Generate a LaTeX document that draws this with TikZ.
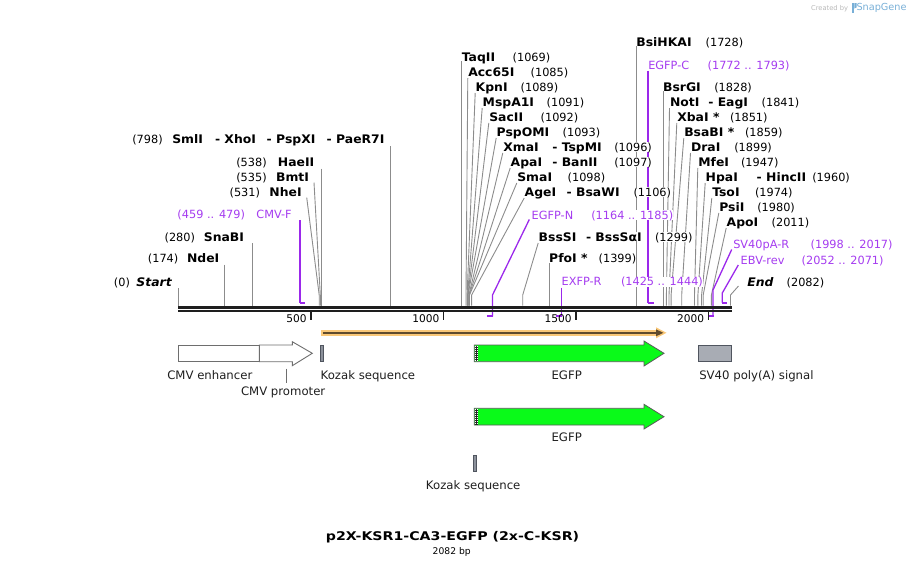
\documentclass[tikz,border=0pt]{standalone}
\usepackage{fontspec}
\setmainfont{DejaVu Sans}
\newfontfamily\enzfont{DejaVu Sans}[FakeStretch=1.05]
\newfontfamily\titlefont{DejaVu Sans}[FakeStretch=1.18]
\usetikzlibrary{calc}
\pgfdeclarelayer{background}
\pgfsetlayers{background,main}
\definecolor{cutline}{RGB}{140,140,140}
\definecolor{prim}{RGB}{155,40,235}
\definecolor{primtxt}{RGB}{165,60,240}
\definecolor{dna}{RGB}{30,30,30}
\definecolor{egfp}{RGB}{10,250,25}
\definecolor{egfpD}{RGB}{90,90,90}
\definecolor{featgray}{RGB}{140,145,155}
\definecolor{kozD}{RGB}{80,85,95}
\definecolor{polyA}{RGB}{168,172,180}
\definecolor{orfO}{RGB}{250,200,120}
\definecolor{orfD}{RGB}{95,75,45}
\definecolor{featline}{RGB}{110,110,110}
\definecolor{feattxt}{RGB}{30,30,30}
\definecolor{sgblue}{RGB}{120,175,215}
\definecolor{sggray}{RGB}{185,185,185}
% right-side site: id, name, name x, baseline, number, number x, bp x
\newcommand\rsite[7]{%
  \node[enzR] (#1) at (#3,#4) {#2};
  \node[numR] (#1n) at (#6,#4) {#5};
  \begin{pgfonlayer}{background}
  \draw[cut] ([shift={(-0.5,2)}]#1.base west) -- (#7,295) -- (#7,305.5);
  \end{pgfonlayer}
}
% right-side site, vertical line
\newcommand\rsitev[6]{%
  \node[enzR] (#1) at (#3,#4) {#2};
  \node[numR] (#1n) at (#6,#4) {#5};
  \begin{pgfonlayer}{background}
  \draw[cut] (#1.base west -| #3,#4+2) -- (#3,305.5);
  \end{pgfonlayer}
}
% left-side site: id, name, name end, baseline, number, number end, bp x
\newcommand\lsite[7]{%
  \node[enzL] (#1) at (#3,#4) {#2};
  \node[numL] (#1n) at (#6,#4) {#5};
  \begin{pgfonlayer}{background}
  \draw[cut] ([shift={(5,1.5)}]#1.base east) -- (#7,295) -- (#7,305.5);
  \end{pgfonlayer}
}
\newcommand\lsitev[7]{%
  \node[enzL] (#1) at (#3,#4) {#2};
  \node[numL] (#1n) at (#6,#4) {#5};
  \begin{pgfonlayer}{background}
  \draw[cut] (#7,#4+2) -- (#7,305.5);
  \end{pgfonlayer}
}
\begin{document}
\begin{tikzpicture}[x=1pt,y=-1pt,
  lbl/.style={inner sep=0pt, outer sep=0pt},
  enzR/.style={lbl, fill=white, anchor=base west, font=\fontsize{11.8}{13}\enzfont\bfseries},
  numR/.style={lbl, fill=white, anchor=base west, font=\fontsize{11.3}{13}\selectfont},
  enzL/.style={lbl, fill=white, anchor=base east, font=\fontsize{11.8}{13}\enzfont\bfseries},
  numL/.style={lbl, fill=white, anchor=base east, font=\fontsize{11.3}{13}\selectfont},
  primR/.style={lbl, fill=white, anchor=base west, text=primtxt, font=\fontsize{11.3}{13}\selectfont},
  primL/.style={lbl, fill=white, anchor=base east, text=primtxt, font=\fontsize{11.3}{13}\selectfont},
  cut/.style={draw=cutline, line width=0.9pt},
  primline/.style={draw=prim, line width=1.3pt, line join=miter},
  primfoot/.style={draw=prim, line width=2pt},
  ruler/.style={lbl, anchor=base east, font=\fontsize{10.6}{12}\selectfont, text=black},
  feat/.style={lbl, font=\fontsize{11.7}{13}\selectfont, text=feattxt},
  tick/.style={draw=dna, line width=1.8pt}
]
\useasboundingbox (0,0) rectangle (910,566);

% ---- watermark
\node[lbl, anchor=base east, text=sggray, font=\fontsize{6.7}{8}\selectfont] (createdby) at (848,10) {Created by};
\fill[sgblue] (852,3) rectangle (854.3,12.5);
\fill[sgblue] (854.3,3) -- (856.5,3) -- (856.5,7.5) -- (854.3,8.5) -- cycle;
\node[lbl, anchor=base west, text=sgblue, font=\fontsize{9.7}{11}\selectfont] (snapgene) at (856.5,10.5) {SnapGene};

% ---- left-side sites
\lsitev{start}{\itshape Start}{171.7}{286}{(0)}{130}{178.5}
\lsitev{nde}{NdeI}{219.3}{262.5}{(174)}{178.3}{224.6}
\lsitev{sna}{SnaBI}{244}{241}{(280)}{195}{252.7}
\lsite{nhe}{NheI}{301.7}{196}{(531)}{260}{319.2}
\lsite{bmt}{BmtI}{309}{181}{(535)}{266.7}{320.3}
\lsitev{hae}{HaeII}{314.3}{166.5}{(538)}{266.7}{321.1}
% SmlI group
\node[numL] (smln) at (162.7,143) {(798)};
\node[enzR] (sml) at (172.3,143) {SmlI};
\node[enzR] (xho) at (215,143) {- XhoI};
\node[enzR] (pspx) at (266.7,143) {- PspXI};
\node[enzR] (paer) at (326.7,143) {- PaeR7I};
\begin{pgfonlayer}{background}
\draw[cut] (390,146) -- (390,305.5);
\end{pgfonlayer}

% CMV-F primer
\node[primL] (cmvf) at (291.7,218.5) {CMV-F};
\node[primL] (cmvfn) at (245,218.5) {(459 .. 479)};
\begin{pgfonlayer}{background}
\draw[primline] (300.1,220) -- (300.1,303);
\draw[primfoot] (299.5,303) -- (305.4,303);
\end{pgfonlayer}

% ---- first right cluster
\rsitev{taq}{TaqII}{461.8}{61}{(1069)}{512.7}
\rsite{acc}{Acc65I}{468.3}{76}{(1085)}{530.7}{466.0}
\rsite{kpn}{KpnI}{475.7}{91}{(1089)}{520.7}{467.1}
\rsite{msp}{MspA1I}{482.7}{106}{(1091)}{546.7}{467.6}
\rsite{sac}{SacII}{489.3}{121}{(1092)}{540.7}{467.9}
\rsite{pspo}{PspOMI}{496.7}{136}{(1093)}{562.7}{468.1}
\rsite{xma}{XmaI}{503.3}{151}{(1096)}{614.3}{468.9}
\node[enzR] (tsp) at (552.3,151) {- TspMI};
\rsite{apa}{ApaI}{510.7}{166}{(1097)}{614.3}{469.2}
\node[enzR] (ban) at (552.3,166) {- BanII};
\rsite{sma}{SmaI}{517.3}{181}{(1098)}{567.7}{469.5}
\rsite{age}{AgeI}{524.7}{196}{(1106)}{633.5}{471.6}
\node[enzR] (bsaw) at (566.7,196) {- BsaWI};
\rsite{bss}{BssSI}{538.7}{241}{(1299)}{655}{522.7}
\node[enzR] (bssa) at (586,241) {- BssSαI};
\rsitev{pfo}{PfoI *}{549.2}{262.5}{(1399)}{598.7}

% EGFP-N primer
\node[primR] (egfpn) at (531.7,219) {EGFP-N};
\node[primR] (egfpnn) at (591.3,219) {(1164 .. 1185)};
\begin{pgfonlayer}{background}
\draw[primline] (529.3,219.5) -- (492.5,295) -- (492.5,316);
\draw[primfoot] (493.1,316) -- (487,316);
\end{pgfonlayer}
% EXFP-R primer
\node[primR] (exfp) at (561.7,285.5) {EXFP-R};
\node[primR] (exfpn) at (621,285.5) {(1425 .. 1444)};
\begin{pgfonlayer}{background}
\draw[primline] (561.2,287.5) -- (561.2,316);
\draw[primfoot] (561.8,316) -- (556.1,316);
\end{pgfonlayer}

% ---- second right cluster
\rsitev{bsihk}{BsiHKAI}{636.4}{46}{(1728)}{705.7}
\node[primR] (egfpc) at (648.3,69) {EGFP-C};
\node[primR] (egfpcn) at (707.7,69) {(1772 .. 1793)};
\begin{pgfonlayer}{background}
\draw[primline] (648.1,70.5) -- (648.1,302.5);
\draw[primfoot] (647.5,302.5) -- (653.6,302.5);
\end{pgfonlayer}
\rsitev{bsrg}{BsrGI}{663.1}{91}{(1828)}{714.3}
\rsite{not}{NotI}{670}{106}{(1841)}{761.7}{666.4}
\node[enzR] (eag) at (708.3,106) {- EagI};
\rsite{xba}{XbaI *}{677.3}{121}{(1851)}{730}{669.0}
\rsite{bsab}{BsaBI *}{684.3}{136}{(1859)}{745}{671.1}
\rsite{dra}{DraI}{691}{151}{(1899)}{734.3}{681.7}
\rsite{mfe}{MfeI}{698.3}{166}{(1947)}{741}{694.5}
\rsite{hpa}{HpaI}{705.7}{181}{(1960)}{812.3}{697.9}
\node[enzR] (hinc) at (756.7,181) {- HincII};
\rsite{tso}{TsoI}{712.3}{196}{(1974)}{755}{701.6}
\rsite{psi}{PsiI}{719.3}{211}{(1980)}{757.3}{703.2}
\rsite{apo}{ApoI}{726.7}{226}{(2011)}{771.7}{711.4}
% SV40pA-R primer
\node[primR] (sv40r) at (733.3,248) {SV40pA-R};
\node[primR] (sv40rn) at (810.7,248) {(1998 .. 2017)};
\begin{pgfonlayer}{background}
\draw[primline] (731.7,249.5) -- (713,290) -- (713,316);
\draw[primfoot] (713.6,316) -- (708,316);
\end{pgfonlayer}
% EBV-rev primer
\node[primR] (ebv) at (740.7,264) {EBV-rev};
\node[primR] (ebvn) at (801.7,264) {(2052 .. 2071)};
\begin{pgfonlayer}{background}
\draw[primline] (738.3,265) -- (722.3,293) -- (722.3,302.5);
\draw[primfoot] (721.7,302.5) -- (727.3,302.5);
\end{pgfonlayer}
% End
\node[enzR] (endl) at (747.3,286) {\itshape End};
\node[numR] (endn) at (786.7,286) {(2082)};
\begin{pgfonlayer}{background}
\draw[cut] (738.5,286) -- (730.5,295) -- (730.5,305.5);
\end{pgfonlayer}

% ---- DNA backbone and ruler
\draw[dna, line width=3pt] (178,307.2) -- (732,307.2);
\draw[dna, line width=2.3pt] (178,311.2) -- (732,311.2);
\draw[tick] (311,312) -- (311,319.5);
\draw[tick] (443.4,312) -- (443.4,319.5);
\draw[tick] (576,312) -- (576,319.5);
\draw[tick] (708.4,312) -- (708.4,319.5);
\node[ruler] (r500) at (306.7,322) {500};
\node[ruler] (r1000) at (439.3,322) {1000};
\node[ruler] (r1500) at (571.7,322) {1500};
\node[ruler] (r2000) at (704,322) {2000};

% ---- ORF
\draw[orfO, line width=6.5pt] (321,332.8) -- (659,332.8);
\fill[orfO] (656,327.3) -- (666.5,332.8) -- (656,338.3) -- cycle;
\draw[orfD, line width=2.6pt] (323,332.8) -- (658,332.8);
\fill[orfD] (656,329.3) -- (663.3,332.8) -- (656,336.3) -- cycle;

% ---- features row 1
\draw[featline, fill=white, line width=0.9pt] (178.3,345) rectangle (259.3,361.7);
\draw[featline, fill=white, line width=0.9pt] (259.3,345) -- (292.3,345) -- (292.3,341.7) -- (312.3,353.3) -- (292.3,365.7) -- (292.3,361.7) -- (259.3,361.7) -- cycle;
\draw[kozD, fill=featgray, line width=0.8pt] (320.3,345) rectangle (323.7,361.7);
\draw[egfpD, fill=egfp, line width=0.8pt] (474.3,345) -- (644,345) -- (644,341) -- (664,353.3) -- (644,366) -- (644,361.7) -- (474.3,361.7) -- cycle;
\fill[black!85] (474.8,345.5) rectangle (477.7,361.2);
\draw[white, line width=0.7pt, dash pattern=on 1pt off 1pt] (475.4,345.5) -- (475.4,361.2);
\draw[white, line width=0.7pt, dash pattern=on 1pt off 1pt] (477.1,346) -- (477.1,361.2);
\draw[kozD, fill=polyA, line width=0.8pt] (698.3,345) rectangle (731.7,361.7);
\draw[featline, line width=0.9pt] (286.7,368.5) -- (286.7,383);

\node[feat, anchor=base west] (cmvenh) at (167.3,379) {CMV enhancer};
\node[feat, anchor=base west] (cmvpro) at (241,395) {CMV promoter};
\node[feat, anchor=base west] (koz1) at (320.7,379) {Kozak sequence};
\node[feat, anchor=base] (egfp1) at (566.7,379) {EGFP};
\node[feat, anchor=base west] (sv40) at (699.3,379) {SV40 poly(A) signal};

% ---- features row 2
\draw[egfpD, fill=egfp, line width=0.8pt] (474.3,408.3) -- (644,408.3) -- (644,404.3) -- (664,416.7) -- (644,429) -- (644,425) -- (474.3,425) -- cycle;
\fill[black!85] (474.8,408.8) rectangle (477.7,424.5);
\draw[white, line width=0.7pt, dash pattern=on 1pt off 1pt] (475.4,408.8) -- (475.4,424.5);
\draw[white, line width=0.7pt, dash pattern=on 1pt off 1pt] (477.1,409.3) -- (477.1,424.5);
\node[feat, anchor=base] (egfp2) at (566.7,441.7) {EGFP};

% ---- features row 3
\draw[kozD, fill=featgray, line width=0.8pt] (473.3,455) rectangle (476,471.7);
\node[feat, anchor=base] (koz2) at (473.2,489) {Kozak sequence};

% ---- title
\node[lbl, anchor=base, font=\fontsize{12}{15}\titlefont\bfseries, text=black] (title) at (452.5,540.7) {p2X-KSR1-CA3-EGFP (2x-C-KSR)};
\node[lbl, anchor=base, font=\fontsize{9.2}{11}\selectfont, text=black] (bp) at (451.7,554) {2082 bp};
\end{tikzpicture}
\end{document}
